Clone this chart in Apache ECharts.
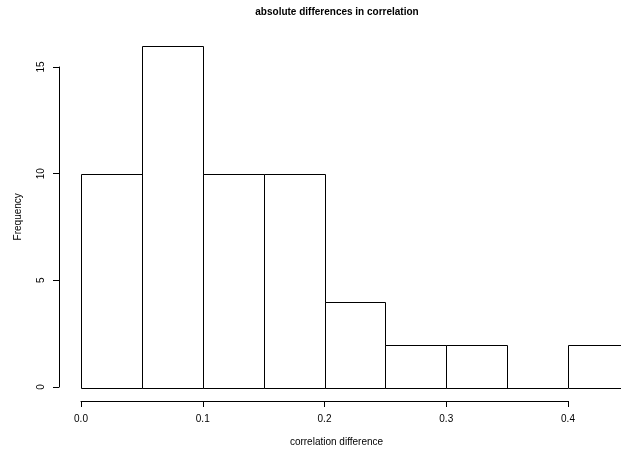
<!DOCTYPE html>
<html>
<head>
<meta charset="utf-8">
<script src="https://cdn.jsdelivr.net/npm/echarts@6/dist/echarts.min.js"></script>
<style>
  html, body { margin: 0; padding: 0; background: #fff; }
  #chart { width: 621px; height: 452px; }
</style>
</head>
<body>
<div id="chart"></div>
<script>
// histogram bins (start, end) and counts
const binStarts = [0.00, 0.05, 0.10, 0.15, 0.20, 0.25, 0.30, 0.35, 0.40];
const binEnds = [0.05, 0.10, 0.15, 0.20, 0.25, 0.30, 0.35, 0.40, 0.45];
const counts = [10, 16, 10, 10, 4, 2, 2, 0, 2];

const font = "'Liberation Sans', Arial, Helvetica, sans-serif";

const chart = echarts.init(document.getElementById('chart'));

const histData = binStarts.map((s, i) => [s, binEnds[i], counts[i]]);

const option = {
  animation: false,
  backgroundColor: '#fff',
  title: {
    text: 'absolute differences in correlation',
    left: 332,
    textAlign: 'center',
    top: 2,
    textStyle: { fontFamily: font, fontSize: 10, fontWeight: 'bold', color: '#000' },
  },
  grid: [
    // axes grid (R draws axes only over pretty range)
    { left: 81, width: 487, top: 67, bottom: 64 },
    // bars grid, cut at the right edge like the original
    { left: 81, width: 540, top: 45.6, bottom: 64 },
  ],
  xAxis: [
    {
      gridIndex: 0,
      type: 'value',
      min: 0,
      max: 0.4,
      interval: 0.1,
      offset: 14,
      name: 'correlation difference',
      nameLocation: 'middle',
      nameGap: 36,
      nameTextStyle: { fontFamily: font, fontSize: 10, color: '#000', padding: [0, 0, 0, 24] },
      splitLine: { show: false },
      axisLine: { show: true, onZero: false, lineStyle: { color: '#000', width: 1 } },
      axisTick: { show: true, length: 6, lineStyle: { color: '#000' } },
      axisLabel: {
        margin: 13,
        fontFamily: font,
        fontSize: 10,
        color: '#000',
        formatter: (v) => v.toFixed(1),
      },
    },
    {
      gridIndex: 1,
      type: 'value',
      min: 0,
      max: 540 / 1217.5,
      show: false,
    },
  ],
  yAxis: [
    {
      gridIndex: 0,
      type: 'value',
      min: 0,
      max: 15,
      interval: 5,
      offset: 22,
      splitLine: { show: false },
      axisLine: { show: true, onZero: false, lineStyle: { color: '#000', width: 1 } },
      axisTick: { show: true, length: 6, lineStyle: { color: '#000' } },
      axisLabel: {
        rotate: 90,
        margin: 13,
        fontFamily: font,
        fontSize: 10,
        color: '#000',
      },
    },
    {
      gridIndex: 1,
      type: 'value',
      min: 0,
      max: 16,
      name: 'Frequency',
      nameLocation: 'middle',
      nameGap: 58,
      nameTextStyle: { fontFamily: font, fontSize: 10, color: '#000' },
      axisLine: { show: false },
      axisTick: { show: false },
      axisLabel: { show: false },
      splitLine: { show: false },
    },
  ],
  series: [
    {
      type: 'custom',
      xAxisIndex: 1,
      yAxisIndex: 1,
      data: histData,
      clip: false,
      renderItem(params, api) {
        const p0 = api.coord([api.value(0), api.value(2)]);
        const p1 = api.coord([api.value(1), 0]);
        const x0 = Math.round(p0[0]);
        const x1 = Math.round(p1[0]);
        const yTop = Math.round(p0[1]);
        const yBase = Math.round(p1[1]);
        if (yTop === yBase) {
          // empty bin: R draws it as a flat line on the baseline
          return {
            type: 'line',
            shape: { x1: x0, y1: yBase + 0.5, x2: x1, y2: yBase + 0.5 },
            style: { stroke: '#000', lineWidth: 1 },
          };
        }
        return {
          type: 'rect',
          shape: { x: x0 + 0.5, y: yTop + 0.5, width: x1 - x0, height: yBase - yTop },
          style: { fill: '#fff', stroke: '#000', lineWidth: 1 },
        };
      },
    },
  ],
};

chart.setOption(option);
</script>
</body>
</html>
